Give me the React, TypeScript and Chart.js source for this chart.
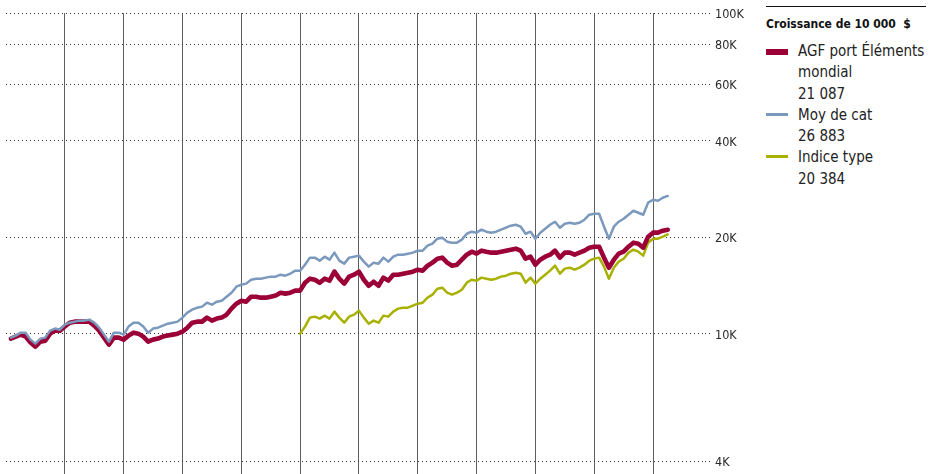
import React, { useEffect, useRef } from "react";
import { Chart, registerables } from "chart.js";

Chart.register(...registerables);

// ---- data (monthly growth of 10 000 $) ----
const startMonth = 1;
const indexStartMonth = 60;
const yearBoundaries = [12, 24, 36, 48, 60, 72, 84, 96, 108, 120, 132];
const yTicks = [4000, 10000, 20000, 40000, 60000, 80000, 100000];

const agfValues = [
  9650, 9790, 9930, 9790, 9380, 9110, 9440, 9510, 10000, 10220,
  10220, 10520, 10820, 10900, 10900, 10900, 10900, 10590, 10220, 9720,
  9240, 9720, 9720, 9580, 9860, 10070, 10000, 9790, 9440, 9580,
  9650, 9790, 9860, 9930, 10000, 10140, 10440, 10820, 10900, 10900,
  11220, 10980, 11140, 11220, 11460, 11970, 12400, 12670, 12580, 13040,
  13040, 12950, 12950, 13040, 13140, 13420, 13330, 13420, 13620, 13620,
  14420, 14840, 14730, 14420, 14840, 14630, 15610, 14840, 14320, 15060,
  15270, 15610, 14730, 14110, 14520, 14110, 14950, 14630, 15270, 15270,
  15380, 15490, 15610, 15830, 15720, 16290, 16650, 17130, 17260, 16650,
  16290, 16410, 17010, 17630, 18010, 17760, 18150, 18010, 17890, 17890,
  18010, 18150, 18280, 18410, 18150, 17130, 17380, 16410, 17010, 17380,
  17630, 18150, 17260, 17890, 17890, 17630, 17890, 18150, 18540, 18670,
  18670, 17260, 16060, 17010, 17760, 18010, 18670, 19220, 19080, 18540,
  20060, 20650, 20650, 20950, 21087,
];

const categoryValues = [
  9720, 9860, 10070, 10070, 9580, 9310, 9650, 9720, 10220, 10370,
  10290, 10670, 10820, 10900, 10980, 10980, 11060, 10820, 10440, 9930,
  9440, 10070, 10070, 9930, 10520, 10820, 10820, 10520, 10070, 10370,
  10440, 10590, 10740, 10820, 10900, 11220, 11630, 11880, 12050, 12140,
  12490, 12310, 12580, 12670, 13040, 13420, 14010, 14210, 14320, 14730,
  14840, 14840, 14950, 15060, 15060, 15270, 15160, 15380, 15720, 15720,
  16410, 17260, 17260, 16890, 17380, 17010, 17890, 16890, 16530, 17260,
  17380, 17510, 16770, 16180, 16650, 16530, 17260, 16770, 17380, 17630,
  17630, 17760, 17890, 18150, 18150, 18810, 19080, 19780, 19920, 19360,
  19220, 19220, 19640, 20490, 20800, 20650, 21100, 20800, 20650, 20800,
  21100, 21400, 21710, 21860, 21560, 20490, 20800, 19780, 20650, 21250,
  21860, 22340, 21400, 22020, 22180, 22020, 22180, 22660, 23490, 23660,
  23660, 21560, 19780, 21560, 22340, 22830, 23490, 24170, 23830, 23490,
  25620, 26150, 25960, 26540, 26883,
];

const indexValues = [
  10000, 10520, 11220, 11300, 11140, 11380, 11140, 11710, 11220, 10820,
  11300, 11460, 11800, 11220, 10740, 10980, 10820, 11380, 11300, 11710,
  11970, 12050, 12050, 12230, 12400, 12490, 12950, 13230, 13810, 13910,
  13420, 13230, 13420, 13710, 14420, 14730, 14630, 14950, 14840, 14730,
  14840, 15060, 15160, 15380, 15490, 15380, 14420, 14950, 14320, 14840,
  15270, 15720, 16290, 15380, 15950, 16060, 15830, 16060, 16410, 16890,
  17130, 17260, 16180, 14840, 16060, 16770, 17130, 17890, 18280, 18010,
  17510, 19220, 19780, 19780, 20060, 20384,
];

const legendTitle = "Croissance de 10\u00a0000\u00a0\u00a0$";
const seriesNames = ["AGF port Éléments mondial", "Moy de cat", "Indice type"];
const finalLabels = ["21 087", "26 883", "20 384"];
const seriesColors = ["#9b0036", "#7b98bd", "#a8b000"];

const FONT = "'DejaVu Sans Condensed', 'Liberation Sans Narrow', 'DejaVu Sans', sans-serif";

const toPoints = (vals: number[], start: number) =>
  vals.map((v, i) => ({ x: start + i, y: v }));

export default function App() {
  const ref = useRef<HTMLCanvasElement | null>(null);

  useEffect(() => {
    document.body.style.margin = "0";
    if (!ref.current) return;
    const chart = new Chart(ref.current, {
      type: "line",
      data: {
        datasets: [
          {
            label: seriesNames[1],
            data: toPoints(categoryValues, startMonth),
            borderColor: seriesColors[1],
            borderWidth: 2.5,
            order: 0,
          },
          {
            label: seriesNames[0],
            data: toPoints(agfValues, startMonth),
            borderColor: seriesColors[0],
            borderWidth: 4.6,
            order: 1,
          },
          {
            label: seriesNames[2],
            data: toPoints(indexValues, indexStartMonth),
            borderColor: seriesColors[2],
            borderWidth: 2.5,
            order: 2,
          },
        ],
      },
      options: {
        animation: false,
        responsive: false,
        maintainAspectRatio: false,
        layout: { padding: { left: 6, top: 13, right: 0, bottom: 0 } },
        plugins: { legend: { display: false }, tooltip: { enabled: false } },
        elements: {
          point: { radius: 0 },
          line: { tension: 0, borderJoinStyle: "round", borderCapStyle: "round" },
        },
        scales: {
          x: {
            type: "linear",
            min: 0,
            max: 142.6,
            ticks: { display: false },
            grid: { color: "#5e5e5e", lineWidth: 1, drawTicks: false },
            border: { display: false },
            afterBuildTicks: (s: any) => {
              s.ticks = yearBoundaries.map((v) => ({ value: v }));
            },
            afterFit: (s: any) => {
              s.height = 0;
            },
          },
          y: {
            type: "logarithmic",
            position: "right",
            min: 3650,
            max: 100000,
            afterBuildTicks: (s: any) => {
              s.ticks = yTicks.map((v) => ({ value: v }));
            },
            ticks: {
              autoSkip: false,
              callback: (v: any) => Number(v) / 1000 + "K",
              font: { family: FONT, size: 12.5 },
              color: "#2a2a2a",
              padding: 2,
              labelOffset: 2,
            },
            grid: {
              color: "#333",
              lineWidth: 1,
              tickLength: 8,
              tickColor: "#333",
              tickBorderDash: [1, 3],
            },
            border: { display: false, dash: [1, 3] },
            afterFit: (s: any) => {
              s.width = 55;
              s.paddingTop = 0;
              s.paddingBottom = 0;
            },
          },
        },
      },
    } as any);
    return () => chart.destroy();
  }, []);

  const items = [
    { name: seriesNames[0], value: finalLabels[0], color: seriesColors[0], h: 6, mt: 7.5 },
    { name: seriesNames[1], value: finalLabels[1], color: seriesColors[1], h: 3, mt: 8 },
    { name: seriesNames[2], value: finalLabels[2], color: seriesColors[2], h: 3, mt: 8 },
  ];

  return (
    <div style={{ position: "relative", width: 939, height: 474, overflow: "hidden", background: "#fff" }}>
      <canvas ref={ref} width={760} height={474} style={{ position: "absolute", left: 0, top: 0, width: 760, height: 474 }} />
      <div style={{ position: "absolute", left: 766, top: 6, width: 160, borderTop: "1px solid #111" }} />
      <div
        style={{
          position: "absolute",
          left: 766,
          top: 17,
          font: `bold 12px ${FONT}`,
          lineHeight: "15px",
          color: "#111",
          whiteSpace: "nowrap",
        }}
      >
        {legendTitle}
      </div>
      <div style={{ position: "absolute", left: 766, top: 41, width: 172, font: `15px ${FONT}`, lineHeight: "21.3px", color: "#222" }}>
        {items.map((it, i) => (
          <div key={i} style={{ display: "flex", alignItems: "flex-start" }}>
            <div style={{ flex: "none", width: 22, height: it.h, marginTop: it.mt, marginRight: 10, background: it.color }} />
            <div style={{ width: 135 }}>
              <div>{it.name}</div>
              <div>{it.value}</div>
            </div>
          </div>
        ))}
      </div>
    </div>
  );
}
